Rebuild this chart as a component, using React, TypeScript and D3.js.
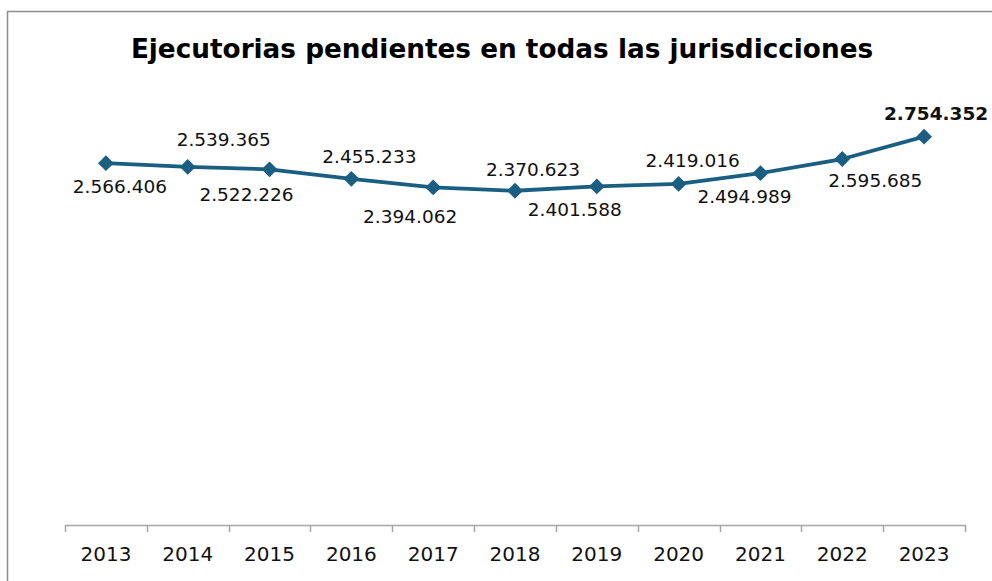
import React, { useEffect, useRef } from 'react';
import * as d3 from 'd3';

const years = ['2013', '2014', '2015', '2016', '2017', '2018', '2019', '2020', '2021', '2022', '2023'];
const pending = [2566406, 2539365, 2522226, 2455233, 2394062, 2370623, 2401588, 2419016, 2494989, 2595685, 2754352];
// label nudges (dx, dy from the point), like the hand-placed labels in the source
const labelDx = [14, 36, -23, 18, -23, 18, -22, 14, -16, 33, 12];
const labelDy = [30, -21, 32, -16, 36, -15, 30, -17, 30, 28, -17];

const fmt = (v: number) => d3.format(',')(v).replace(/,/g, '.');

const App: React.FC = () => {
    const svgRef = useRef<SVGSVGElement>(null);

    useEffect(() => {
        if (!svgRef.current) return;
        document.body.style.margin = '0';

        const width = 992;
        const height = 581;
        const svg = d3.select(svgRef.current);
        svg.selectAll('*').remove();
        svg.attr('width', width).attr('height', height);

        const font = 'Verdana, "DejaVu Sans", sans-serif';

        // outer frame
        svg.append('rect')
            .attr('x', 7.5)
            .attr('y', 11.5)
            .attr('width', 1000)
            .attr('height', 600)
            .attr('fill', 'white')
            .attr('stroke', '#8c8c8c')
            .attr('stroke-width', 1.5);

        svg.append('text')
            .attr('x', 502)
            .attr('y', 58)
            .attr('text-anchor', 'middle')
            .style('font-family', font)
            .style('font-weight', 'bold')
            .style('font-size', '26.3px')
            .attr('fill', '#000')
            .text('Ejecutorias pendientes en todas las jurisdicciones');

        const x = d3.scaleBand().domain(years).range([65, 965]);
        const y = d3.scaleLinear().domain([0, 3000000]).range([525, 102]);

        // category axis
        const axis = svg.append('g');
        axis.append('line')
            .attr('x1', 65).attr('x2', 965)
            .attr('y1', 525.5).attr('y2', 525.5)
            .attr('stroke', '#a6a6a6').attr('stroke-width', 1.5);
        const edges = years.map(d => x(d) as number).concat([965]);
        axis.selectAll('.tick')
            .data(edges)
            .enter()
            .append('line')
            .attr('x1', d => Math.round(d) + 0.5)
            .attr('x2', d => Math.round(d) + 0.5)
            .attr('y1', 525)
            .attr('y2', 532)
            .attr('stroke', '#a6a6a6')
            .attr('stroke-width', 1.5);
        axis.selectAll('.yr')
            .data(years)
            .enter()
            .append('text')
            .attr('x', d => (x(d) as number) + x.bandwidth() / 2)
            .attr('y', 561)
            .attr('text-anchor', 'middle')
            .style('font-family', font)
            .style('font-size', '20px')
            .attr('fill', '#111')
            .text(d => d);

        const cx = (i: number) => (x(years[i]) as number) + x.bandwidth() / 2;

        const line = d3.line<number>()
            .x((_, i) => cx(i))
            .y(d => y(d));

        svg.append('path')
            .datum(pending)
            .attr('d', line)
            .attr('fill', 'none')
            .attr('stroke', '#1a5f82')
            .attr('stroke-width', 3.8)
            .attr('stroke-linejoin', 'round');

        const marker = d3.symbol().type(d3.symbolSquare).size(125);
        svg.selectAll('.pt')
            .data(pending)
            .enter()
            .append('path')
            .attr('d', marker)
            .attr('transform', (d, i) => `translate(${cx(i)},${y(d)}) rotate(45)`)
            .attr('fill', '#1a5f82');

        svg.selectAll('.lbl')
            .data(pending)
            .enter()
            .append('text')
            .attr('x', (d, i) => cx(i) + labelDx[i])
            .attr('y', (d, i) => y(d) + labelDy[i])
            .attr('text-anchor', 'middle')
            .style('font-family', font)
            .style('font-size', '18.5px')
            .style('font-weight', (d, i) => (i === pending.length - 1 ? 'bold' : 'normal'))
            .attr('fill', '#111')
            .text(d => fmt(d));
    }, []);

    return <svg ref={svgRef}></svg>;
};

export default App;
